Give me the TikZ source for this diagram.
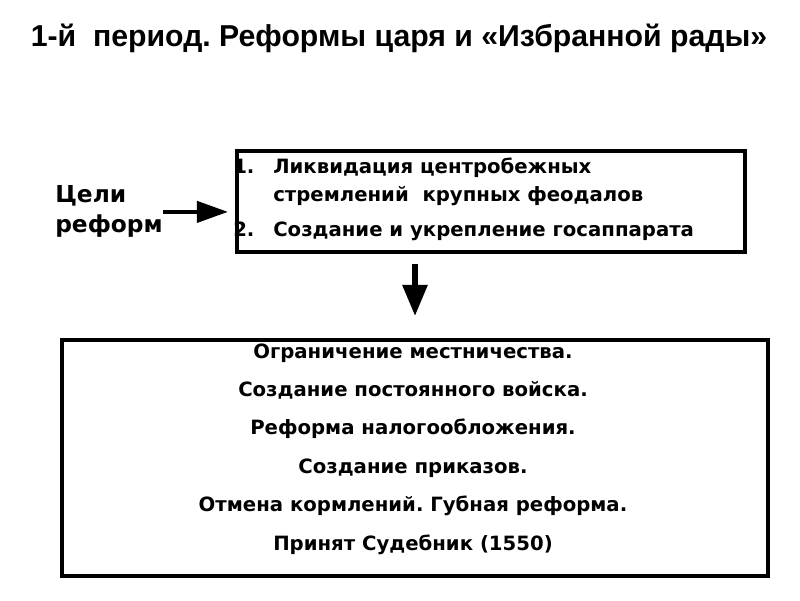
\documentclass[tikz,border=0pt]{standalone}
\usepackage{fontspec}
\setmainfont{DejaVu Sans}
\newfontfamily\titlefont{Liberation Sans}
\usetikzlibrary{arrows.meta, positioning}
\tikzset{>=latex}
\tikzset{
  boxtext/.style={anchor=base west, inner sep=0, font=\bfseries\fontsize{14}{17}\selectfont},
  listline/.style={anchor=base, inner sep=0, font=\bfseries\fontsize{14}{17}\selectfont},
  goaltext/.style={anchor=base west, inner sep=0, font=\bfseries\fontsize{16.6}{20}\selectfont},
  frame/.style={draw, line width=2.85pt, inner sep=0}
}
\frenchspacing

\begin{document}
\begin{tikzpicture}
\useasboundingbox (0,0) rectangle (20,15);
\node[anchor=base, inner sep=0, font=\titlefont\bfseries\fontsize{21.5}{26}\selectfont] (title) at (9.975,13.825) {1-й\ \ период. Реформы царя и «Избранной рады»};
% goals
\node[goaltext] (goals1) at (1.375,9.925) {Цели};
\node[goaltext] (goals2) at (1.375,9.175) {реформ};
\node[boxtext] (n1) at (5.825,10.65) {1.};
\node[boxtext] (g1) at (6.825,10.65) {Ликвидация центробежных};
\node[boxtext] (g2) at (6.825,9.95) {стремлений\ \ крупных феодалов};
\node[boxtext] (n2) at (5.825,9.075) {2.};
\node[boxtext] (g3) at (6.825,9.075) {Создание и укрепление госаппарата};
\node[frame, minimum width=12.7cm, minimum height=2.525cm] (aims) at (12.275,9.9625) {};
% measures
\node[frame, minimum width=17.65cm, minimum height=5.9cm] (measures) at (10.375,3.55) {};
\node[listline] (m1) at (10.325,6.05) {Ограничение местничества.};
\node[listline] (m2) at (10.325,5.09) {Создание постоянного войска.};
\node[listline] (m3) at (10.325,4.13) {Реформа налогообложения.};
\node[listline] (m4) at (10.325,3.17) {Создание приказов.};
\node[listline] (m5) at (10.325,2.21) {Отмена кормлений. Губная реформа.};
\node[listline] (m6) at (10.325,1.25) {Принят Судебник (1550)};
% arrows
\draw[-{Triangle[length=0.775cm, width=0.525cm]}, line width=2.85pt, shorten >=0.175cm] ([yshift=-0.26cm]goals2.east |- aims.west) -- ([yshift=-0.26cm]aims.west);
\draw[-{Triangle[length=0.775cm, width=0.6cm]}, line width=4pt, shorten <=0.25cm, shorten >=0.55cm] (aims.south -| measures.north) -- (measures.north);
\end{tikzpicture}
\end{document}
